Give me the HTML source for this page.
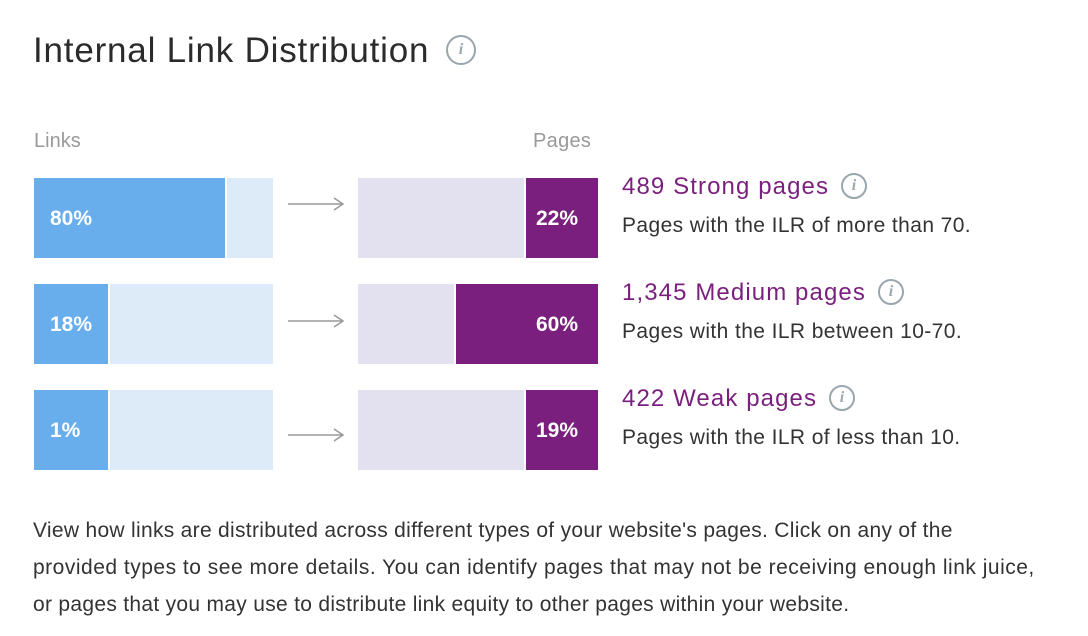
<!DOCTYPE html>
<html><head><meta charset="utf-8"><style>
body{margin:0;width:1088px;height:636px;background:#fff;font-family:"Liberation Sans",sans-serif;overflow:hidden;position:relative}
.abs{position:absolute}
.info{position:absolute;width:26px;height:26px;border:2px solid #9aa6ad;border-radius:50%;box-sizing:border-box;color:#9aa6ad;font:italic bold 16px "Liberation Serif",serif;text-align:center;line-height:22px}
</style></head><body>
<div class="abs" style="left:33px;top:31px;font-size:35px;color:#2b2b2b;letter-spacing:0.8px">Internal Link Distribution</div>
<div class="info" style="left:446px;top:35px;width:30px;height:30px;line-height:26px">i</div>
<div class="abs" style="left:34px;top:130px;font-size:20px;color:#999">Links</div>
<div class="abs" style="left:533px;top:130px;font-size:20px;color:#999;letter-spacing:0.3px">Pages</div>
<div id="chart"></div>
<div class="abs" style="left:33px;top:512px;white-space:nowrap;font-size:21px;line-height:37px;color:#333;letter-spacing:0.3px">View how links are distributed across different types of your website's pages. Click on any of the<br><span style="letter-spacing:0.5px">provided types to see more details. You can identify pages that may not be receiving enough link juice,</span><br>or pages that you may use to distribute link equity to other pages within your website.</div>
<script>
const categories=["489 Strong pages","1,345 Medium pages","422 Weak pages"];
const descriptions=["Pages with the ILR of more than 70.","Pages with the ILR between 10-70.","Pages with the ILR of less than 10."];
const linkPct=[80,18,1];
const pagePct=[22,60,19];
const names=["strong","medium","weak"];
const chart=document.getElementById('chart');
const rowTop=[178,284,390], rowH=80, L0=34, W=239, R0=358, RW=240, MIN=74;
const arrowY=[204,321,435];
function w(p,t){return Math.max(p/100*t,MIN);}
function div(css,name,inter){const d=document.createElement('div');d.style.cssText='position:absolute;'+css;


chart.appendChild(d);return d;}
categories.forEach((c,i)=>{
  const y=rowTop[i], n=names[i];
  const lw=w(linkPct[i],W);
  div(`left:${L0}px;top:${y}px;width:${W}px;height:${rowH}px;background:#ddeaf8`,n+'-links-track','true');
  div(`left:${L0}px;top:${y}px;width:${lw}px;height:${rowH}px;background:#68adec;border-right:2px solid #fff;box-sizing:content-box`,n+'-links-bar','true');
  const t1=div(`left:${L0+16}px;top:${y+29}px;color:#fff;font-weight:bold;font-size:21px`,n+'-links-value','false');t1.textContent=linkPct[i]+'%';
  const a=div(`left:288px;top:${arrowY[i]-8}px;width:58px;height:16px`,n+'-arrow','false');
  a.innerHTML='<svg width="58" height="16"><line x1="0" y1="8" x2="55" y2="8" stroke="#999" stroke-width="1.5"/><polyline points="46,2 55,8 46,14" fill="none" stroke="#999" stroke-width="1.5"/></svg>';
  const pw=w(pagePct[i],RW);
  div(`left:${R0}px;top:${y}px;width:${RW}px;height:${rowH}px;background:#e3e1f0`,n+'-pages-track','true');
  div(`left:${R0+RW-pw}px;top:${y}px;width:${pw}px;height:${rowH}px;background:#7b1f7e;border-left:2px solid #fff;box-sizing:border-box`,n+'-pages-bar','true');
  const t2=div(`right:${1088-R0-RW+20}px;top:${y+29}px;color:#fff;font-weight:bold;font-size:21px`,n+'-pages-value','false');t2.textContent=pagePct[i]+'%';
  const h=div(`left:622px;top:${y-5}px;color:#7b1f7e;font-size:24px;letter-spacing:1.1px`,n+'-title-link','true');h.textContent=c;
  const ic=document.createElement('div');ic.className='info';
  
  
  chart.appendChild(ic);
  ic.style.left=(622+h.offsetWidth+12)+'px';ic.style.top=(y-5)+'px';ic.textContent='i';
  const d=div(`left:622px;top:${y+36}px;color:#333;font-size:21px;letter-spacing:0.4px`,n+'-description','false');d.textContent=descriptions[i];
});
</script>
</body></html>
